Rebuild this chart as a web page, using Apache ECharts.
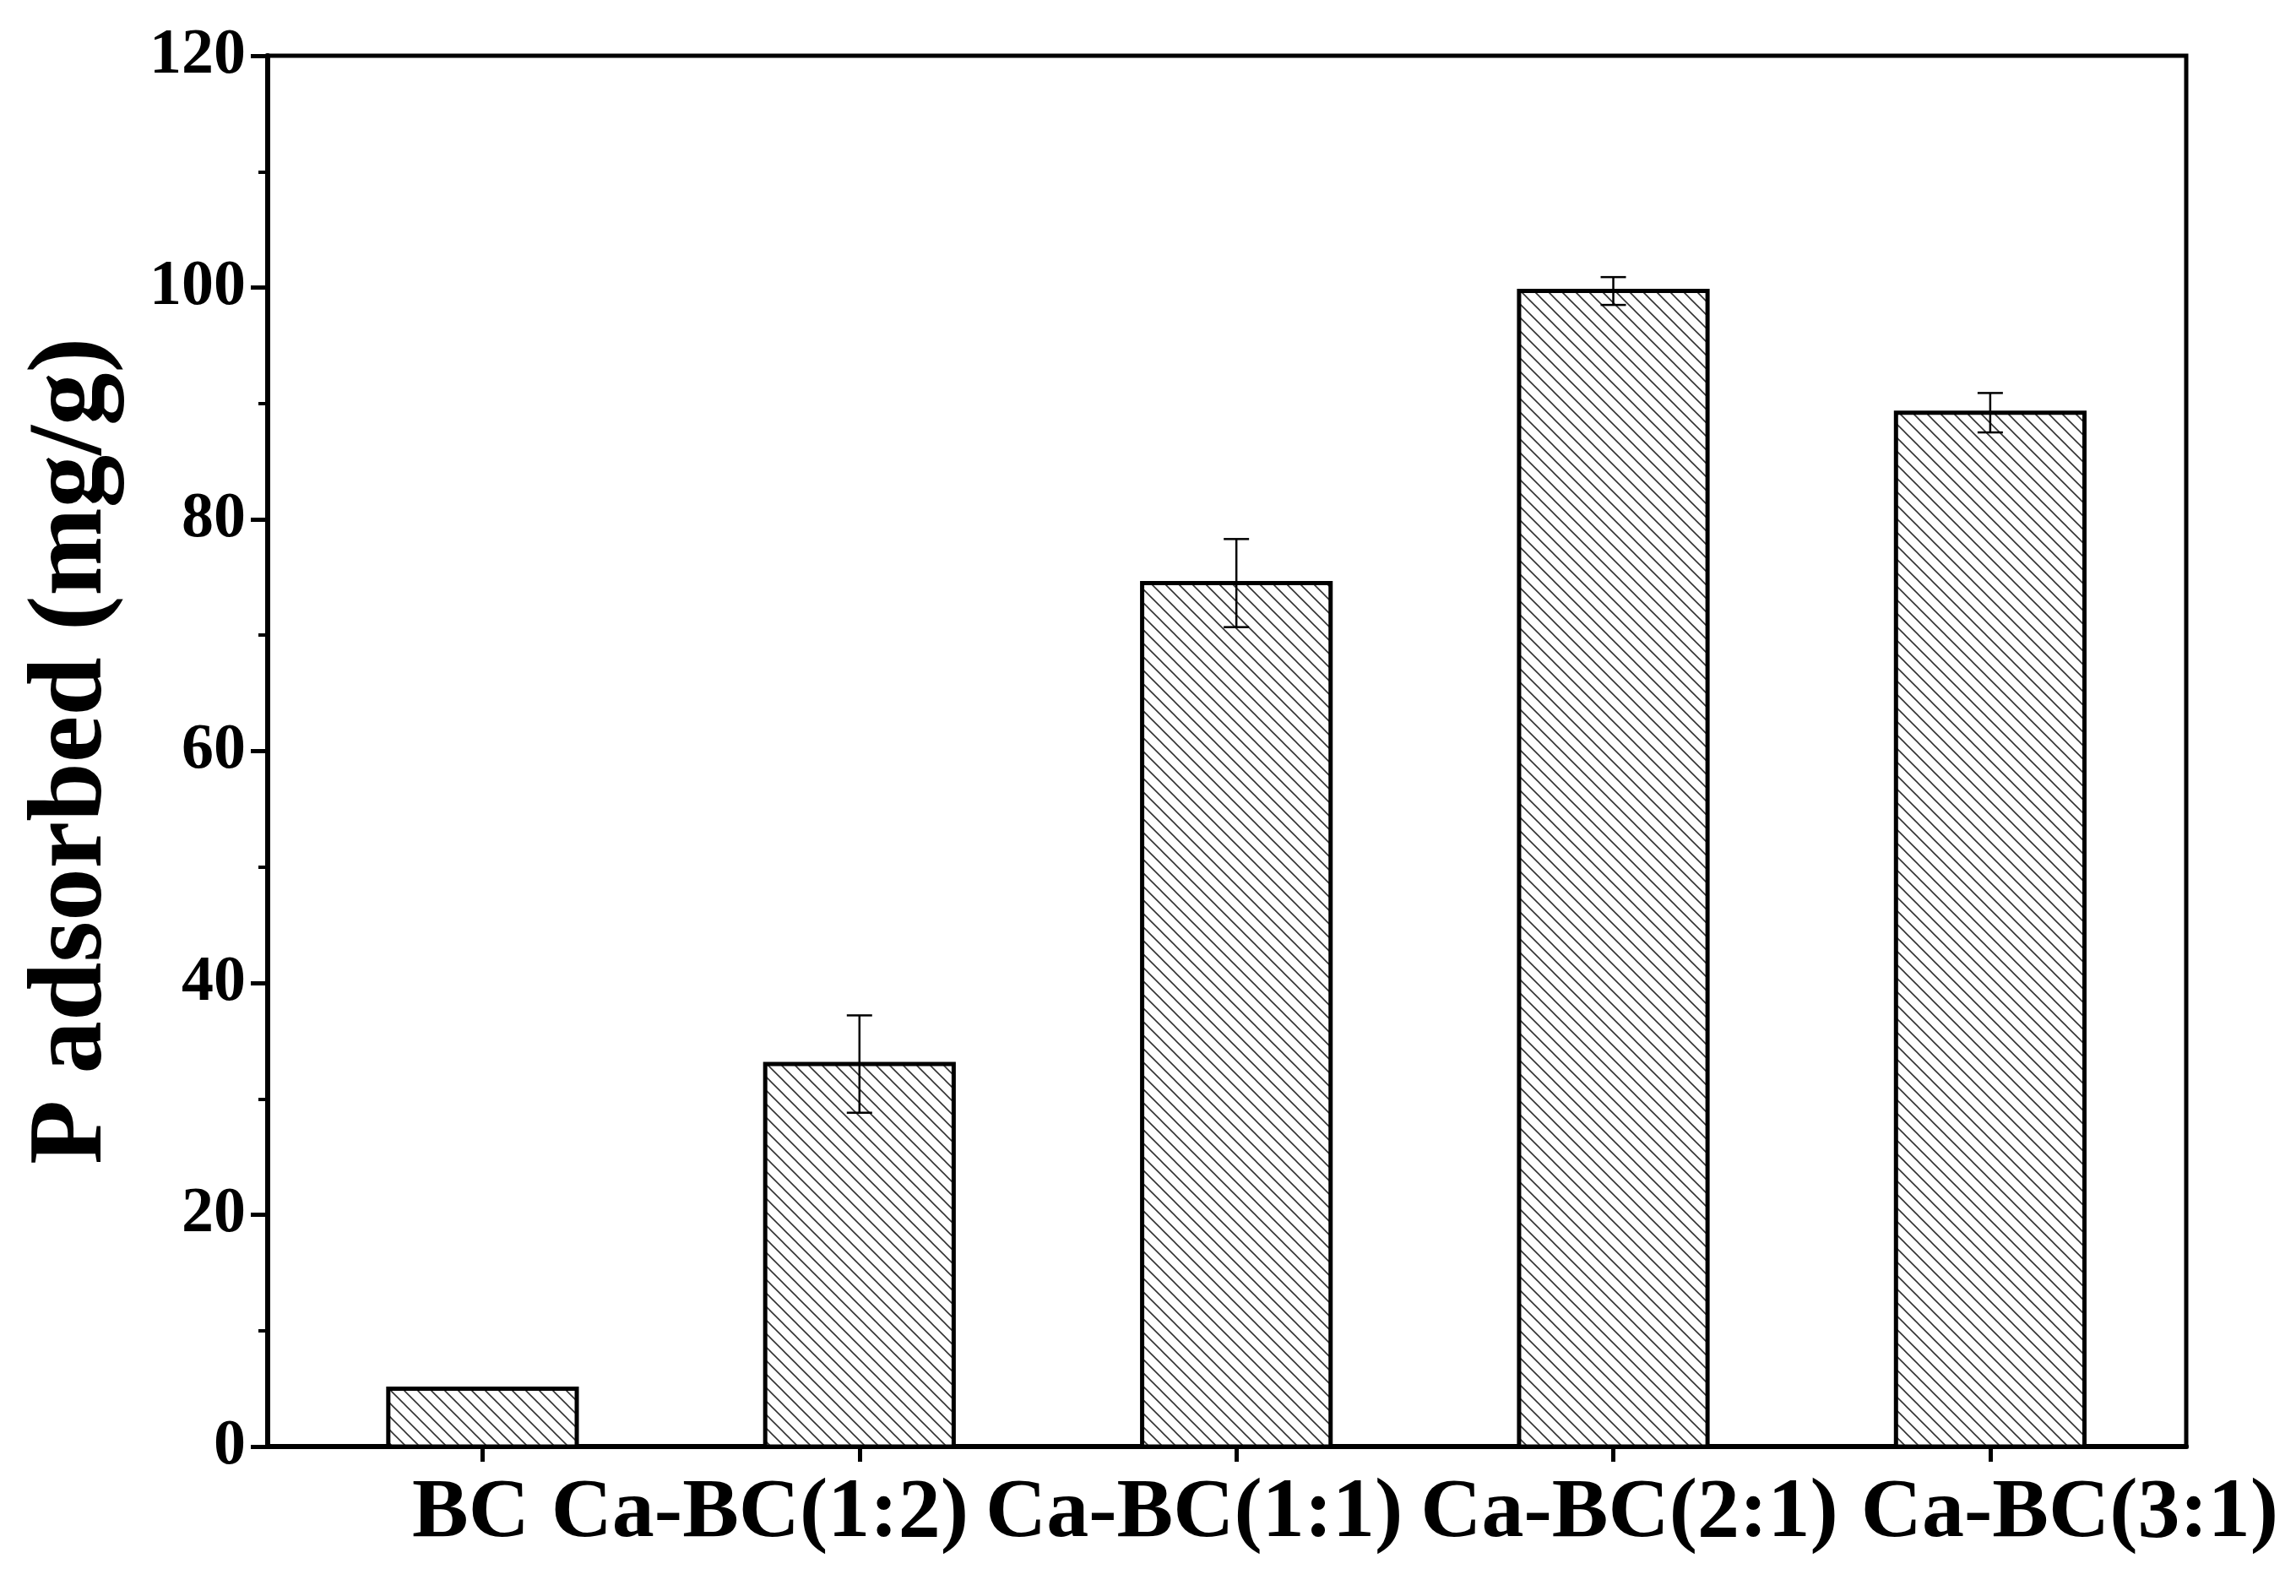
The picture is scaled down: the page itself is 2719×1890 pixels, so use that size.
<!DOCTYPE html>
<html><head><meta charset="utf-8">
<script src="https://cdn.jsdelivr.net/npm/echarts@6/dist/echarts.min.js"></script>
<style>html,body{margin:0;padding:0;background:#fff}#c{width:2719px;height:1890px}</style>
</head><body><div id="c"></div>
<script>
const categories = ['BC','Ca-BC(1:2)','Ca-BC(1:1)','Ca-BC(2:1)','Ca-BC(3:1)'];
const values = [5.0, 33.0, 74.5, 99.7, 89.2];
const errors = [0, 4.2, 3.8, 1.2, 1.7];
const labelShift = [-14, -118, -50, 19, 94];

const pc = document.createElement('canvas');
pc.width = 16; pc.height = 16;
const g = pc.getContext('2d');
g.fillStyle = '#fff'; g.fillRect(0,0,16,16);
g.strokeStyle = '#333'; g.lineWidth = 1.6;
g.beginPath();
g.moveTo(0,0); g.lineTo(16,16);
g.moveTo(-8,8); g.lineTo(8,24);
g.moveTo(8,-8); g.lineTo(24,8);
g.stroke();

const data = categories.map((c,i)=>[i+1, values[i], errors[i]]);
const rich = {};
labelShift.forEach((s,i)=>{ rich['r'+i] = {fontFamily:'Liberation Serif', fontWeight:'bold', fontSize:100, color:'#000',
  padding: s>=0 ? [0,0,0,2*s] : [0,-2*s,0,0]}; });

const chart = echarts.init(document.getElementById('c'));
chart.setOption({
  animation:false,
  grid:{left:317,right:130,top:66,bottom:177,show:true,borderColor:'#000',borderWidth:5},
  xAxis:{type:'value',min:0.43,max:5.52,
    axisLine:{lineStyle:{color:'#000',width:6}},
    axisTick:{customValues:[1,2,3,4,5],length:18,lineStyle:{color:'#000',width:5}},
    axisLabel:{customValues:[1,2,3,4,5],margin:30,hideOverlap:false,
      formatter:v=>{const i=Math.round(v)-1;return '{r'+i+'|'+categories[i]+'}';}, rich:rich},
    splitLine:{show:false}},
  yAxis:{type:'value',min:0,max:120,interval:20,
    name:'P adsorbed (mg/g)',nameLocation:'middle',nameGap:168,
    nameTextStyle:{fontFamily:'Liberation Serif',fontWeight:'bold',fontSize:125,color:'#000'},
    axisLine:{show:true,lineStyle:{color:'#000',width:6}},
    axisTick:{length:20,lineStyle:{color:'#000',width:5}},
    minorTick:{show:true,splitNumber:2,length:11,lineStyle:{color:'#000',width:4}},
    axisLabel:{fontFamily:'Liberation Serif',fontWeight:'bold',fontSize:76,color:'#000',margin:26},
    splitLine:{show:false}},
  series:[{type:'custom',data:data,clip:false,
    renderItem:(params,api)=>{
      const x=api.value(0), y=api.value(1), e=api.value(2);
      const p0=api.coord([x-0.25,y]), p1=api.coord([x+0.25,0]);
      const children=[{type:'rect',shape:{x:p0[0],y:p0[1],width:p1[0]-p0[0],height:p1[1]-p0[1]},
        style:{fill:{image:pc,repeat:'repeat'},stroke:'#000',lineWidth:5}}];
      if(e>0){
        const t=api.coord([x,y+e]), b=api.coord([x,y-e]);
        children.push({type:'line',shape:{x1:t[0],y1:t[1],x2:b[0],y2:b[1]},style:{stroke:'#000',lineWidth:2.5}});
        children.push({type:'line',shape:{x1:t[0]-15,y1:t[1],x2:t[0]+15,y2:t[1]},style:{stroke:'#000',lineWidth:2.5}});
        children.push({type:'line',shape:{x1:b[0]-15,y1:b[1],x2:b[0]+15,y2:b[1]},style:{stroke:'#000',lineWidth:2.5}});
      }
      return {type:'group',children:children};
    }}]
});
</script></body></html>
